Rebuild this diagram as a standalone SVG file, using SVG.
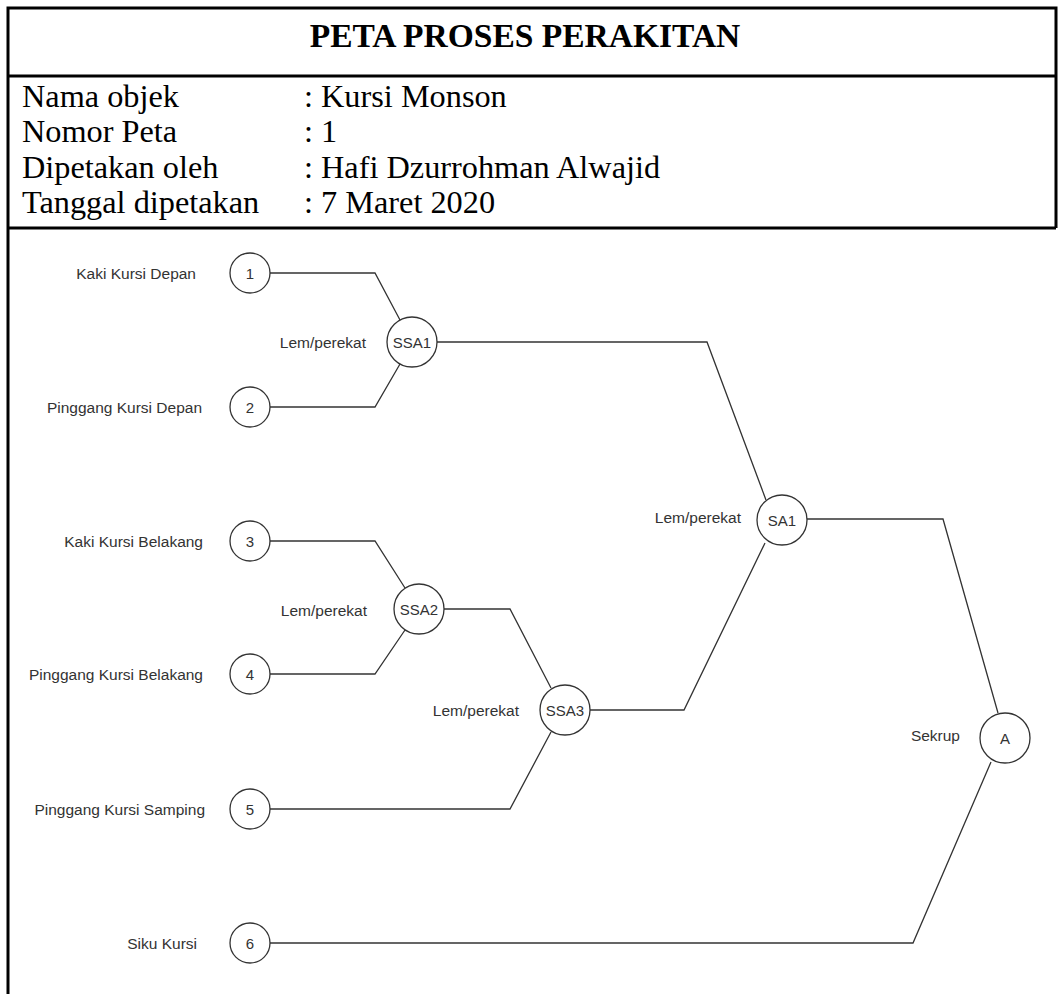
<svg xmlns="http://www.w3.org/2000/svg" width="1059" height="994" viewBox="0 0 1059 994">
<style>
.hdr{font-family:"Liberation Serif","Times New Roman",serif;fill:#000}
.title{font-size:33.5px;font-weight:bold;text-anchor:middle}
.row{font-size:32.3px}
.lbl{font-family:"Liberation Sans",Arial,sans-serif;font-size:15.5px;fill:#333;text-anchor:end}
.nd circle{fill:#fff;stroke:#333;stroke-width:1.3}
.nd .in{font-family:"Liberation Sans",Arial,sans-serif;font-size:15px;fill:#333;text-anchor:middle}
.conn path{fill:none;stroke:#333;stroke-width:1.3}
.frame{stroke:#000;stroke-width:3;fill:none}
</style>
<rect width="1059" height="994" fill="#fff"/>
<g id="frame">
<path class="frame" d="M8,994 V8 H1056 V228"/>
<line class="frame" x1="8" y1="76" x2="1056" y2="76"/>
<line class="frame" x1="8" y1="228" x2="1056" y2="228"/>
</g>
<g id="header" class="hdr">
<text class="title" x="525" y="47">PETA PROSES PERAKITAN</text>
<text class="row" x="22" y="107">Nama objek</text>
<text class="row" x="304" y="107">: Kursi Monson</text>
<text class="row" x="22" y="142">Nomor Peta</text>
<text class="row" x="304" y="142">: 1</text>
<text class="row" x="22" y="178">Dipetakan oleh</text>
<text class="row" x="304" y="178">: Hafi Dzurrohman Alwajid</text>
<text class="row" x="22" y="213">Tanggal dipetakan</text>
<text class="row" x="304" y="213">: 7 Maret 2020</text>
</g>
<g id="connectors" class="conn">
<path d="M270,273 H375 L400,320"/>
<path d="M270,407 H375 L400,364"/>
<path d="M437,342 H707 L766,500"/>
<path d="M270,541 H375 L405,588"/>
<path d="M270,674 H375 L405,630"/>
<path d="M444,609 H510 L551,688"/>
<path d="M270,809 H510 L551,732"/>
<path d="M590,710 H684 L765,543"/>
<path d="M807,519 H943 L998,713"/>
<path d="M270,943 H913 L991,762"/>
</g>
<g id="n1" class="nd"><text class="lbl" x="196" y="278.5">Kaki Kursi Depan</text><circle cx="250" cy="273" r="20"/><text class="in" x="250" y="278.5">1</text></g>
<g id="n2" class="nd"><text class="lbl" x="202" y="412.5">Pinggang Kursi Depan</text><circle cx="250" cy="407" r="20"/><text class="in" x="250" y="412.5">2</text></g>
<g id="n3" class="nd"><text class="lbl" x="203" y="546.5">Kaki Kursi Belakang</text><circle cx="250" cy="541" r="20"/><text class="in" x="250" y="546.5">3</text></g>
<g id="n4" class="nd"><text class="lbl" x="203" y="679.5">Pinggang Kursi Belakang</text><circle cx="250" cy="674" r="20"/><text class="in" x="250" y="679.5">4</text></g>
<g id="n5" class="nd"><text class="lbl" x="205" y="814.5">Pinggang Kursi Samping</text><circle cx="250" cy="809" r="20"/><text class="in" x="250" y="814.5">5</text></g>
<g id="n6" class="nd"><text class="lbl" x="197" y="948.5">Siku Kursi</text><circle cx="250" cy="943" r="20"/><text class="in" x="250" y="948.5">6</text></g>
<g id="ssa1" class="nd"><text class="lbl" x="366" y="347.5">Lem/perekat</text><circle cx="412" cy="342" r="25"/><text class="in" x="412" y="347.5">SSA1</text></g>
<g id="ssa2" class="nd"><text class="lbl" x="367" y="615.5">Lem/perekat</text><circle cx="419" cy="609" r="25"/><text class="in" x="419" y="614.5">SSA2</text></g>
<g id="ssa3" class="nd"><text class="lbl" x="519" y="715.5">Lem/perekat</text><circle cx="565" cy="710" r="25"/><text class="in" x="565" y="715.5">SSA3</text></g>
<g id="sa1" class="nd"><text class="lbl" x="741" y="522.5">Lem/perekat</text><circle cx="782" cy="520" r="25"/><text class="in" x="782" y="525.5">SA1</text></g>
<g id="a" class="nd"><text class="lbl" x="960" y="740.5">Sekrup</text><circle cx="1005" cy="738" r="25"/><text class="in" x="1005" y="743.5">A</text></g>
</svg>
